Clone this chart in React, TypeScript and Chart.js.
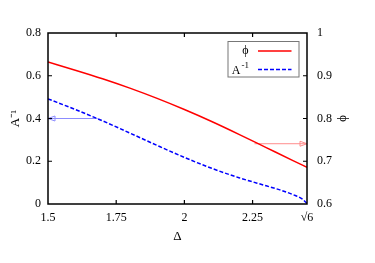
import React, { useEffect, useRef } from "react";
import { Chart, registerables } from "chart.js";
Chart.register(...registerables);

const SQRT6 = Math.sqrt(6);

// phi (right axis) vs Delta
const phiX = [1.5, 1.6, 1.7, 1.8, 1.9, 2.0, 2.1, 2.2, 2.3, 2.4, SQRT6];
const phiY = [0.932, 0.913, 0.893, 0.871, 0.847, 0.821, 0.793, 0.763, 0.732, 0.701, 0.686];

// A^-1 (left axis) vs Delta
const invAX = [1.5, 1.6, 1.7, 1.8, 1.9, 2.0, 2.1, 2.2, 2.3, 2.35, 2.4, 2.43, SQRT6];
const invAY = [0.492, 0.442, 0.389, 0.332, 0.274, 0.218, 0.167, 0.123, 0.085, 0.066, 0.043, 0.025, 0.003];

// arrows pointing to the axis each curve belongs to
const leftArrowX = [1.682, 1.5];
const leftArrowY = [0.4, 0.4];
const rightArrowX = [2.257, SQRT6];
const rightArrowY = [0.741, 0.741];

const xTicks = [1.5, 1.75, 2, 2.25, SQRT6];
const yTicks = [0, 0.2, 0.4, 0.6, 0.8];
const y2Ticks = [0.6, 0.7, 0.8, 0.9, 1];

const legendLabels = ["ϕ", "A"];
const FONT = "'Liberation Serif', 'Times New Roman', serif";

const fmt = (v: number) => {
  if (Math.abs(v - SQRT6) < 1e-6) return "√6";
  return String(Math.round(v * 1000) / 1000);
};

const framePlugin = {
  id: "frame",
  afterDatasetsDraw(chart: any) {
    const { ctx, chartArea: a, scales } = chart;
    ctx.save();
    // arrow heads
    chart.data.datasets.forEach((ds: any, i: number) => {
      if (!ds.arrow) return;
      const pts = chart.getDatasetMeta(i).data;
      const p1 = pts[pts.length - 2];
      const p2 = pts[pts.length - 1];
      const ang = Math.atan2(p2.y - p1.y, p2.x - p1.x);
      const L = 7, W = 2.5;
      const c = Math.cos(ang), s = Math.sin(ang);
      ctx.strokeStyle = ds.borderColor;
      ctx.lineWidth = 1;
      ctx.beginPath();
      ctx.moveTo(p2.x, p2.y);
      ctx.lineTo(p2.x - L * c - W * s, p2.y - L * s + W * c);
      ctx.lineTo(p2.x - L * c + W * s, p2.y - L * s - W * c);
      ctx.closePath();
      ctx.stroke();
    });
    // frame
    ctx.strokeStyle = "#000";
    ctx.lineWidth = 1.5;
    ctx.strokeRect(a.left, a.top, a.right - a.left, a.bottom - a.top);
    // inward ticks
    const T = 4;
    ctx.lineWidth = 1.2;
    ctx.beginPath();
    xTicks.slice(1, -1).forEach((v) => {
      const px = scales.x.getPixelForValue(v);
      ctx.moveTo(px, a.bottom); ctx.lineTo(px, a.bottom - T);
      ctx.moveTo(px, a.top); ctx.lineTo(px, a.top + T);
    });
    yTicks.slice(1, -1).forEach((v) => {
      const py = scales.y.getPixelForValue(v);
      ctx.moveTo(a.left, py); ctx.lineTo(a.left + T, py);
    });
    y2Ticks.slice(1, -1).forEach((v) => {
      const py = scales.y2.getPixelForValue(v);
      ctx.moveTo(a.right, py); ctx.lineTo(a.right - T, py);
    });
    ctx.stroke();
    // legend
    const lx = a.right - 8 - 71, ly = a.top + 8.5, lw = 71, lh = 35.5;
    ctx.strokeStyle = "#777";
    ctx.lineWidth = 1;
    ctx.strokeRect(lx, ly, lw, lh);
    ctx.fillStyle = "#000";
    ctx.textBaseline = "middle";
    ctx.textAlign = "right";
    ctx.font = `12px ${FONT}`;
    const textRight = lx + 20.5;
    const row1 = ly + 9.5, row2 = ly + 28;
    ctx.fillText(legendLabels[0], textRight, row1);
    // A^-1
    ctx.fillText(legendLabels[1], textRight - 8, row2 + 1);
    ctx.font = `9px ${FONT}`;
    ctx.textAlign = "left";
    ctx.fillText("-1", textRight - 7, row2 - 4);
    // samples
    ctx.lineWidth = 1.5;
    ctx.strokeStyle = "#ff0000";
    ctx.beginPath();
    ctx.moveTo(lx + 30, row1); ctx.lineTo(lx + 63.5, row1);
    ctx.stroke();
    ctx.strokeStyle = "#0000ff";
    ctx.setLineDash([4, 2]);
    ctx.beginPath();
    ctx.moveTo(lx + 30, row2); ctx.lineTo(lx + 63.5, row2);
    ctx.stroke();
    ctx.restore();
  },
};

export default function App() {
  const ref = useRef<HTMLCanvasElement>(null);
  useEffect(() => {
    if (!ref.current) return;
    const tickFont = { family: FONT, size: 12 };
    const chart = new Chart(ref.current, {
      type: "line",
      data: {
        datasets: [
          {
            label: "ϕ",
            data: phiX.map((x, i) => ({ x, y: phiY[i] })),
            yAxisID: "y2",
            borderColor: "#ff0000",
            borderWidth: 1.5,
            pointRadius: 0,
            cubicInterpolationMode: "monotone",
            fill: false,
          },
          {
            label: "A⁻¹",
            data: invAX.map((x, i) => ({ x, y: invAY[i] })),
            yAxisID: "y",
            borderColor: "#0000ff",
            borderWidth: 1.5,
            borderDash: [4, 2],
            pointRadius: 0,
            cubicInterpolationMode: "monotone",
            fill: false,
          },
          {
            label: "arrowLeft",
            arrow: true,
            data: leftArrowX.map((x, i) => ({ x, y: leftArrowY[i] })),
            yAxisID: "y",
            borderColor: "#8c8cff",
            borderWidth: 1,
            pointRadius: 0,
            fill: false,
          },
          {
            label: "arrowRight",
            arrow: true,
            data: rightArrowX.map((x, i) => ({ x, y: rightArrowY[i] })),
            yAxisID: "y2",
            borderColor: "#ff8c8c",
            borderWidth: 1,
            pointRadius: 0,
            fill: false,
          },
        ] as any,
      },
      options: {
        animation: false,
        responsive: false,
        devicePixelRatio: 1,
        layout: { padding: { top: 33, left: 0, right: 0, bottom: 0 } },
        plugins: { legend: { display: false }, tooltip: { enabled: false } },
        scales: {
          x: {
            type: "linear",
            min: 1.5,
            max: SQRT6,
            grid: { display: false, drawTicks: false },
            border: { display: false },
            ticks: { font: tickFont, color: "#000", padding: 7, maxRotation: 0, autoSkip: false, callback: (v: any) => fmt(Number(v)) },
            afterBuildTicks: (s: any) => { s.ticks = xTicks.map((v) => ({ value: v })); },
            afterFit: (s: any) => { s.height = 59; },
            title: { display: true, text: "Δ", color: "#000", font: { family: FONT, size: 13 }, padding: { top: 0, bottom: 19 } },
          },
          y: {
            type: "linear",
            position: "left",
            min: 0,
            max: 0.8,
            grid: { display: false, drawTicks: false },
            border: { display: false },
            ticks: { font: tickFont, color: "#000", padding: 7, autoSkip: false, callback: (v: any) => fmt(Number(v)) },
            afterBuildTicks: (s: any) => { s.ticks = yTicks.map((v) => ({ value: v })); },
            afterFit: (s: any) => { s.width = 48; },
            title: { display: true, text: "A⁻¹", color: "#000", font: { family: FONT, size: 13 }, padding: { top: 8, bottom: 0 } },
          },
          y2: {
            type: "linear",
            position: "right",
            min: 0.6,
            max: 1,
            grid: { display: false, drawTicks: false },
            border: { display: false },
            ticks: { font: tickFont, color: "#000", padding: 10, autoSkip: false, callback: (v: any) => fmt(Number(v)) },
            afterBuildTicks: (s: any) => { s.ticks = y2Ticks.map((v) => ({ value: v })); },
            afterFit: (s: any) => { s.width = 68; },
            title: { display: true, text: "ϕ", color: "#000", font: { family: FONT, size: 13 }, padding: { top: 24, bottom: 0 } },
          },
        },
      } as any,
      plugins: [framePlugin],
    });
    return () => chart.destroy();
  }, []);
  return (
    <div style={{ position: "fixed", left: 0, top: 0, width: 375, height: 263, background: "#fff" }}>
      <canvas ref={ref} width={375} height={263} style={{ width: 375, height: 263, display: "block" }} />
    </div>
  );
}
